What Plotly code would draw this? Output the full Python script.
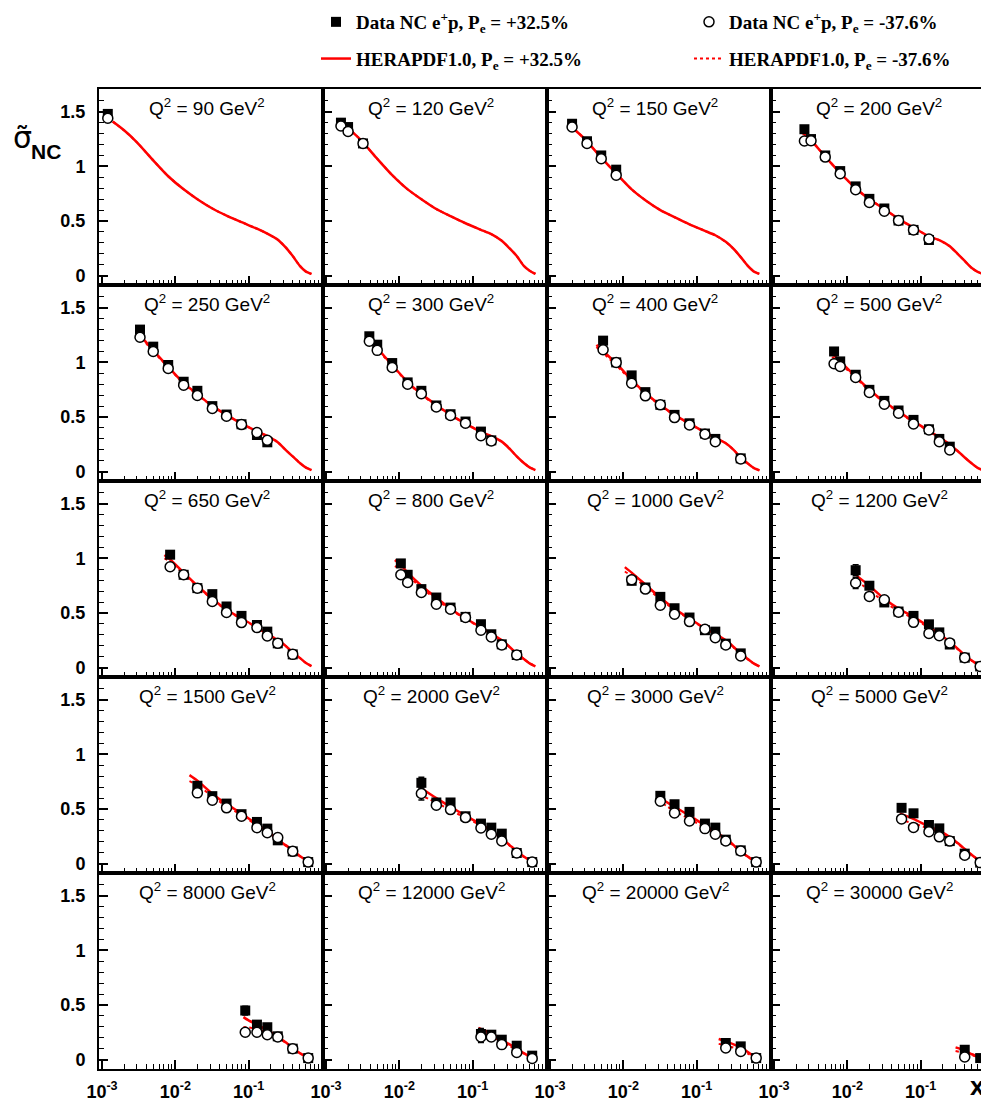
import plotly.graph_objects as go
from plotly.subplots import make_subplots

# ---------------- data ----------------
Q2 = [90, 120, 150, 200, 250, 300, 400, 500, 650, 800,
      1000, 1200, 1500, 2000, 3000, 5000, 8000, 12000, 20000, 30000]

data_x = [
    [0.0012],
    [0.0016, 0.002, 0.0032],
    [0.002, 0.0032, 0.005, 0.008],
    [0.0026, 0.0032, 0.005, 0.008, 0.013, 0.02, 0.032, 0.05, 0.08, 0.13],
    [0.0033, 0.005, 0.008, 0.013, 0.02, 0.032, 0.05, 0.08, 0.13, 0.18],
    [0.0039, 0.005, 0.008, 0.013, 0.02, 0.032, 0.05, 0.08, 0.13, 0.18],
    [0.0053, 0.008, 0.013, 0.02, 0.032, 0.05, 0.08, 0.13, 0.18, 0.4],
    [0.0066, 0.008, 0.013, 0.02, 0.032, 0.05, 0.08, 0.13, 0.18, 0.25],
    [0.0085, 0.013, 0.02, 0.032, 0.05, 0.08, 0.13, 0.18, 0.25, 0.4],
    [0.0105, 0.013, 0.02, 0.032, 0.05, 0.08, 0.13, 0.18, 0.25, 0.4],
    [0.013, 0.02, 0.032, 0.05, 0.08, 0.13, 0.18, 0.25, 0.4],
    [0.013, 0.02, 0.032, 0.05, 0.08, 0.13, 0.18, 0.25, 0.4, 0.65],
    [0.02, 0.032, 0.05, 0.08, 0.13, 0.18, 0.25, 0.4, 0.65],
    [0.02, 0.032, 0.05, 0.08, 0.13, 0.18, 0.25, 0.4, 0.65],
    [0.032, 0.05, 0.08, 0.13, 0.18, 0.25, 0.4, 0.65],
    [0.055, 0.08, 0.13, 0.18, 0.25, 0.4, 0.65],
    [0.09, 0.13, 0.18, 0.25, 0.4, 0.65],
    [0.13, 0.18, 0.25, 0.4, 0.65],
    [0.25, 0.4, 0.65],
    [0.4, 0.65],
]

# Data NC e+p, Pe = +32.5%
sig_pos = [
    [1.48],
    [1.40, 1.36, 1.21],
    [1.39, 1.23, 1.10, 0.97],
    [1.34, 1.25, 1.10, 0.957, 0.817, 0.703, 0.615, 0.505, 0.419, 0.327],
    [1.30, 1.144, 0.976, 0.823, 0.74, 0.60, 0.523, 0.434, 0.336, 0.269],
    [1.239, 1.162, 0.994, 0.817, 0.74, 0.606, 0.526, 0.459, 0.367, 0.287],
    [1.199, 1.0, 0.881, 0.728, 0.612, 0.52, 0.443, 0.349, 0.30, 0.122],
    [1.10, 1.009, 0.887, 0.749, 0.648, 0.56, 0.474, 0.388, 0.30, 0.229],
    [1.034, 0.85, 0.728, 0.673, 0.56, 0.474, 0.391, 0.33, 0.223, 0.122],
    [0.954, 0.85, 0.719, 0.642, 0.55, 0.465, 0.398, 0.306, 0.214, 0.116],
    [0.795, 0.734, 0.648, 0.544, 0.459, 0.343, 0.33, 0.22, 0.131],
    [0.892, 0.75, 0.597, 0.514, 0.474, 0.397, 0.323, 0.212, 0.092, 0.012],
    [0.713, 0.618, 0.55, 0.453, 0.382, 0.321, 0.214, 0.113, 0.015],
    [0.74, 0.56, 0.56, 0.434, 0.367, 0.33, 0.275, 0.098, 0.015],
    [0.621, 0.544, 0.474, 0.367, 0.33, 0.22, 0.122, 0.015],
    [0.511, 0.461, 0.354, 0.323, 0.207, 0.092, 0.01],
    [0.45, 0.321, 0.297, 0.214, 0.101, 0.015],
    [0.235, 0.229, 0.183, 0.128, 0.037],
    [0.153, 0.122, 0.015],
    [0.091, 0.015],
]

# Data NC e+p, Pe = -37.6%
sig_neg = [
    [1.44],
    [1.37, 1.32, 1.21],
    [1.36, 1.21, 1.07, 0.92],
    [1.232, 1.235, 1.085, 0.933, 0.786, 0.67, 0.59, 0.505, 0.419, 0.336],
    [1.23, 1.10, 0.945, 0.792, 0.697, 0.578, 0.508, 0.431, 0.358, 0.287],
    [1.193, 1.11, 0.954, 0.801, 0.713, 0.593, 0.514, 0.443, 0.33, 0.281],
    [1.116, 1.0, 0.81, 0.694, 0.612, 0.495, 0.428, 0.343, 0.275, 0.116],
    [0.988, 0.963, 0.862, 0.725, 0.618, 0.535, 0.437, 0.382, 0.275, 0.199],
    [0.924, 0.85, 0.728, 0.606, 0.505, 0.413, 0.367, 0.291, 0.223, 0.122],
    [0.85, 0.78, 0.688, 0.581, 0.535, 0.459, 0.343, 0.281, 0.208, 0.116],
    [0.804, 0.719, 0.572, 0.489, 0.422, 0.352, 0.275, 0.208, 0.107],
    [0.775, 0.652, 0.621, 0.508, 0.415, 0.314, 0.292, 0.227, 0.092, 0.012],
    [0.648, 0.581, 0.511, 0.434, 0.33, 0.284, 0.239, 0.113, 0.015],
    [0.642, 0.535, 0.495, 0.422, 0.327, 0.269, 0.208, 0.098, 0.015],
    [0.572, 0.465, 0.391, 0.321, 0.269, 0.208, 0.116, 0.015],
    [0.41, 0.332, 0.292, 0.246, 0.207, 0.077, 0.01],
    [0.251, 0.251, 0.229, 0.208, 0.101, 0.015],
    [0.208, 0.208, 0.138, 0.067, 0.012],
    [0.107, 0.076, 0.015],
    [0.025, None],
]

# visible error bars (first point of each bin only)
err_pos_first = [0, 0, 0, 0, 0, 0, 0, 0, 0, 0,
                 0, 0.05, 0, 0.05, 0, 0, 0.04, 0.05, 0, 0]
err_neg_first = [0, 0, 0, 0, 0, 0, 0, 0, 0, 0,
                 0, 0.05, 0, 0.06, 0, 0, 0.03, 0.05, 0, 0]

# HERAPDF1.0 predictions
curve_x = [
    [0.0014, 0.002, 0.003, 0.005, 0.008, 0.013, 0.02, 0.032, 0.05, 0.08, 0.13, 0.18, 0.25, 0.32, 0.4, 0.5, 0.6, 0.72],
    [0.0017, 0.002, 0.003, 0.005, 0.008, 0.013, 0.02, 0.032, 0.05, 0.08, 0.13, 0.18, 0.25, 0.32, 0.4, 0.5, 0.6, 0.72],
    [0.0019, 0.003, 0.005, 0.008, 0.013, 0.02, 0.032, 0.05, 0.08, 0.13, 0.18, 0.25, 0.32, 0.4, 0.5, 0.6, 0.72],
    [0.0024, 0.003, 0.005, 0.008, 0.013, 0.02, 0.032, 0.05, 0.08, 0.13, 0.18, 0.25, 0.32, 0.4, 0.5, 0.6, 0.72],
    [0.0031, 0.005, 0.008, 0.013, 0.02, 0.032, 0.05, 0.08, 0.13, 0.18, 0.25, 0.32, 0.4, 0.5, 0.6, 0.72],
    [0.0037, 0.005, 0.008, 0.013, 0.02, 0.032, 0.05, 0.08, 0.13, 0.18, 0.25, 0.32, 0.4, 0.5, 0.6, 0.72],
    [0.0043, 0.005, 0.008, 0.013, 0.02, 0.032, 0.05, 0.08, 0.13, 0.18, 0.25, 0.32, 0.4, 0.5, 0.6, 0.72],
    [0.0062, 0.008, 0.013, 0.02, 0.032, 0.05, 0.08, 0.13, 0.18, 0.25, 0.32, 0.4, 0.5, 0.6, 0.72],
    [0.0071, 0.0085, 0.013, 0.02, 0.032, 0.05, 0.08, 0.13, 0.18, 0.25, 0.32, 0.4, 0.5, 0.6, 0.72],
    [0.0087, 0.0105, 0.013, 0.02, 0.032, 0.05, 0.08, 0.13, 0.18, 0.25, 0.32, 0.4, 0.5, 0.6, 0.72],
    [0.0105, 0.013, 0.02, 0.032, 0.05, 0.08, 0.13, 0.18, 0.25, 0.32, 0.4, 0.5, 0.6, 0.72],
    [0.0135, 0.02, 0.032, 0.05, 0.08, 0.13, 0.18, 0.25, 0.32, 0.4, 0.5, 0.6, 0.72],
    [0.0156, 0.02, 0.032, 0.05, 0.08, 0.13, 0.18, 0.25, 0.32, 0.4, 0.5, 0.6, 0.72],
    [0.019, 0.032, 0.05, 0.08, 0.13, 0.18, 0.25, 0.32, 0.4, 0.5, 0.6, 0.72],
    [0.03, 0.05, 0.08, 0.13, 0.18, 0.25, 0.32, 0.4, 0.5, 0.6, 0.72],
    [0.052, 0.08, 0.13, 0.18, 0.25, 0.32, 0.4, 0.5, 0.6, 0.72],
    [0.085, 0.1, 0.13, 0.18, 0.25, 0.32, 0.4, 0.5, 0.6, 0.72],
    [0.12, 0.18, 0.25, 0.32, 0.4, 0.5, 0.6, 0.72],
    [0.2, 0.25, 0.32, 0.4, 0.5, 0.6, 0.72],
    [0.3, 0.4, 0.5, 0.6, 0.72],
]

curve_pos = [
    [1.41, 1.33, 1.22, 1.055, 0.91, 0.79, 0.70, 0.615, 0.55, 0.49, 0.43, 0.385, 0.33, 0.26, 0.18, 0.09, 0.04, 0.016],
    [1.39, 1.35, 1.24, 1.07, 0.92, 0.79, 0.70, 0.61, 0.545, 0.48, 0.42, 0.38, 0.32, 0.25, 0.18, 0.09, 0.045, 0.016],
    [1.37, 1.25, 1.08, 0.935, 0.79, 0.69, 0.60, 0.535, 0.47, 0.41, 0.37, 0.31, 0.245, 0.17, 0.09, 0.04, 0.016],
    [1.31, 1.26, 1.09, 0.94, 0.80, 0.70, 0.61, 0.52, 0.44, 0.36, 0.325, 0.27, 0.20, 0.135, 0.07, 0.035, 0.015],
    [1.27, 1.11, 0.96, 0.81, 0.71, 0.60, 0.52, 0.44, 0.37, 0.325, 0.27, 0.20, 0.14, 0.08, 0.04, 0.015],
    [1.23, 1.13, 0.975, 0.82, 0.71, 0.61, 0.52, 0.44, 0.365, 0.325, 0.275, 0.21, 0.14, 0.08, 0.04, 0.015],
    [1.16, 1.12, 0.99, 0.84, 0.72, 0.61, 0.52, 0.44, 0.36, 0.31, 0.26, 0.20, 0.13, 0.075, 0.035, 0.012],
    [1.08, 1.01, 0.87, 0.75, 0.64, 0.55, 0.46, 0.375, 0.315, 0.25, 0.19, 0.13, 0.075, 0.035, 0.012],
    [1.03, 0.99, 0.87, 0.75, 0.63, 0.53, 0.45, 0.37, 0.31, 0.25, 0.20, 0.14, 0.09, 0.045, 0.015],
    [0.985, 0.94, 0.87, 0.75, 0.64, 0.54, 0.45, 0.37, 0.31, 0.25, 0.19, 0.13, 0.08, 0.04, 0.012],
    [0.92, 0.87, 0.76, 0.64, 0.54, 0.45, 0.36, 0.31, 0.25, 0.19, 0.13, 0.08, 0.04, 0.012],
    [0.84, 0.75, 0.63, 0.54, 0.465, 0.375, 0.31, 0.236, 0.175, 0.113, 0.065, 0.03, 0.01],
    [0.81, 0.76, 0.64, 0.545, 0.46, 0.36, 0.30, 0.22, 0.17, 0.12, 0.07, 0.035, 0.012],
    [0.70, 0.60, 0.52, 0.44, 0.36, 0.30, 0.23, 0.17, 0.115, 0.065, 0.03, 0.01],
    [0.61, 0.52, 0.44, 0.35, 0.29, 0.23, 0.17, 0.11, 0.065, 0.03, 0.01],
    [0.46, 0.41, 0.34, 0.30, 0.245, 0.19, 0.135, 0.08, 0.04, 0.012],
    [0.39, 0.36, 0.32, 0.27, 0.21, 0.16, 0.11, 0.06, 0.03, 0.01],
    [0.29, 0.24, 0.18, 0.14, 0.10, 0.06, 0.03, 0.01],
    [0.19, 0.17, 0.14, 0.11, 0.07, 0.035, 0.01],
    [0.113, 0.085, 0.05, 0.03, 0.01],
]

curve_neg = [
    [1.41, 1.33, 1.22, 1.055, 0.91, 0.79, 0.70, 0.615, 0.55, 0.49, 0.43, 0.385, 0.33, 0.26, 0.18, 0.09, 0.04, 0.016],
    [1.39, 1.35, 1.24, 1.07, 0.92, 0.79, 0.70, 0.61, 0.545, 0.48, 0.42, 0.38, 0.32, 0.25, 0.18, 0.09, 0.045, 0.016],
    [1.37, 1.25, 1.08, 0.935, 0.79, 0.69, 0.60, 0.535, 0.47, 0.41, 0.37, 0.31, 0.245, 0.17, 0.09, 0.04, 0.016],
    [1.31, 1.26, 1.09, 0.94, 0.80, 0.70, 0.61, 0.52, 0.44, 0.36, 0.325, 0.27, 0.20, 0.135, 0.07, 0.035, 0.015],
    [1.26, 1.10, 0.955, 0.805, 0.705, 0.60, 0.52, 0.44, 0.37, 0.325, 0.27, 0.20, 0.14, 0.08, 0.04, 0.015],
    [1.22, 1.12, 0.97, 0.815, 0.705, 0.605, 0.52, 0.44, 0.365, 0.325, 0.275, 0.21, 0.14, 0.08, 0.04, 0.015],
    [1.14, 1.10, 0.975, 0.83, 0.715, 0.605, 0.515, 0.44, 0.36, 0.31, 0.26, 0.20, 0.13, 0.075, 0.035, 0.012],
    [1.05, 0.99, 0.86, 0.74, 0.635, 0.545, 0.455, 0.37, 0.31, 0.25, 0.19, 0.13, 0.075, 0.035, 0.012],
    [1.00, 0.97, 0.86, 0.745, 0.625, 0.525, 0.445, 0.365, 0.305, 0.25, 0.20, 0.14, 0.09, 0.045, 0.015],
    [0.93, 0.90, 0.845, 0.73, 0.625, 0.53, 0.445, 0.365, 0.305, 0.245, 0.19, 0.13, 0.08, 0.04, 0.012],
    [0.88, 0.84, 0.74, 0.625, 0.53, 0.445, 0.355, 0.305, 0.245, 0.185, 0.125, 0.075, 0.04, 0.012],
    [0.79, 0.71, 0.60, 0.52, 0.45, 0.365, 0.30, 0.23, 0.17, 0.11, 0.063, 0.03, 0.01],
    [0.755, 0.72, 0.615, 0.525, 0.445, 0.35, 0.29, 0.215, 0.165, 0.115, 0.068, 0.033, 0.012],
    [0.63, 0.56, 0.49, 0.42, 0.35, 0.29, 0.225, 0.165, 0.11, 0.062, 0.03, 0.01],
    [0.58, 0.48, 0.41, 0.33, 0.28, 0.22, 0.165, 0.108, 0.063, 0.03, 0.01],
    [0.40, 0.37, 0.32, 0.285, 0.235, 0.185, 0.13, 0.078, 0.04, 0.012],
    [0.30, 0.295, 0.28, 0.25, 0.205, 0.155, 0.108, 0.06, 0.03, 0.01],
    [0.26, 0.215, 0.165, 0.125, 0.09, 0.055, 0.028, 0.01],
    [0.145, 0.13, 0.11, 0.085, 0.055, 0.03, 0.01],
    [0.08, 0.06, 0.04, 0.025, 0.01],
]

x_tick_vals = [0.001, 0.01, 0.1]
x_tick_text = ["10<sup>-3</sup>", "10<sup>-2</sup>", "10<sup>-1</sup>"]

# ---------------- layout geometry ----------------
PAGE_W, PAGE_H = 989, 1108
OFF = 8                          # default body margin of the html page
W, H = PAGE_W - OFF, PAGE_H - OFF


def fx(px):
    """page pixel -> paper x fraction"""
    return (px - OFF) / W


def fy(py):
    """page pixel -> paper y fraction"""
    return 1 - (py - OFF) / H


NROW, NCOL = 5, 4
col_left = [99, 323, 547, 771]
col_w = 224
row_top = [89 + 196 * r for r in range(NROW)]
row_h = 196
DEC = 73.3                      # pixels per decade
X0 = -3 - 3 / DEC               # log10 at left edge of each panel
Y_RANGE = [-0.085, 1.708]

fig = make_subplots(rows=NROW, cols=NCOL, horizontal_spacing=0, vertical_spacing=0)

TICK_FONT = dict(family="Liberation Sans, Arial", size=18, color="black", weight="bold")
minor_x = [k * 10 ** e for e in (-3, -2, -1) for k in range(2, 10)]

for i, q in enumerate(Q2):
    r, c = divmod(i, NCOL)
    row, col = r + 1, c + 1
    first = (i == 0)

    fig.add_trace(go.Scatter(
        x=curve_x[i], y=curve_neg[i], mode="lines",
        line=dict(color="red", width=2, dash="dot", shape="spline", smoothing=0.6),
        name="HERAPDF1.0, P<sub>e</sub> = -37.6%", legend="legend2",
        legendgroup="m_line", showlegend=first, legendrank=2, hoverinfo="skip"),
        row=row, col=col)
    fig.add_trace(go.Scatter(
        x=curve_x[i], y=curve_pos[i], mode="lines",
        line=dict(color="red", width=2.5, shape="spline", smoothing=0.6),
        name="HERAPDF1.0, P<sub>e</sub> = +32.5%", legend="legend",
        legendgroup="p_line", showlegend=first, legendrank=2, hoverinfo="skip"),
        row=row, col=col)

    n = len(data_x[i])
    fig.add_trace(go.Scatter(
        x=data_x[i], y=sig_pos[i], mode="markers",
        marker=dict(symbol="square", size=10, color="black"),
        error_y=dict(type="data", array=[err_pos_first[i]] + [0] * (n - 1),
                     color="black", thickness=1.5, width=3, visible=True),
        name="Data NC e<sup>+</sup>p, P<sub>e</sub> = +32.5%", legend="legend",
        legendgroup="p_data", showlegend=first, legendrank=1), row=row, col=col)
    fig.add_trace(go.Scatter(
        x=data_x[i], y=sig_neg[i], mode="markers",
        marker=dict(symbol="circle", size=10, color="white",
                    line=dict(color="black", width=1.5)),
        error_y=dict(type="data", array=[err_neg_first[i]] + [0] * (n - 1),
                     color="black", thickness=1.5, width=3, visible=True),
        name="Data NC e<sup>+</sup>p, P<sub>e</sub> = -37.6%", legend="legend2",
        legendgroup="m_data", showlegend=first, legendrank=1), row=row, col=col)

    left = col_left[c]
    right = min(left + col_w, PAGE_W)
    xdom = [fx(left), min(fx(right), 1.0)]
    xr = [X0, X0 + (right - left) / DEC]
    ydom = [fy(row_top[r] + row_h), fy(row_top[r])]

    fig.update_xaxes(
        type="log", domain=xdom, range=xr, showgrid=False, zeroline=False,
        automargin=False,
        showline=True, linecolor="black", linewidth=2, mirror=True,
        ticks="inside", ticklen=9, tickwidth=1.5, tickcolor="black",
        tickmode="array", tickvals=x_tick_vals, ticktext=x_tick_text,
        showticklabels=(r == NROW - 1), tickfont=TICK_FONT, ticklabelstandoff=5,
        minor=dict(ticks="inside", ticklen=5, tickwidth=1, tickcolor="black",
                   tickmode="array", tickvals=minor_x, showgrid=False),
        row=row, col=col)
    fig.update_yaxes(
        domain=ydom, range=Y_RANGE, showgrid=False, zeroline=False,
        automargin=False,
        showline=True, linecolor="black", linewidth=2, mirror=True,
        ticks="inside", ticklen=9, tickwidth=1.5, tickcolor="black",
        tickmode="linear", tick0=0, dtick=0.5,
        showticklabels=(c == 0), tickfont=TICK_FONT, ticklabelstandoff=8,
        minor=dict(ticks="inside", ticklen=5, tickwidth=1, tickcolor="black",
                   dtick=0.1, tick0=0, showgrid=False),
        row=row, col=col)

    fig.add_annotation(
        x=fx(left + 108), y=fy(row_top[r] + 18), xref="paper", yref="paper",
        text=f"Q<sup>2</sup> = {q} GeV<sup>2</sup>", showarrow=False,
        font=dict(family="Liberation Sans, Arial", size=19, color="black"),
        xanchor="center", yanchor="middle")

# axis titles
fig.add_annotation(x=fx(22), y=fy(138), xref="paper", yref="paper",
                   text="σ̃", showarrow=False,
                   font=dict(family="DejaVu Sans", size=30, color="black"),
                   xanchor="center", yanchor="middle")
fig.add_annotation(x=fx(46), y=fy(151), xref="paper", yref="paper",
                   text="NC", showarrow=False,
                   font=dict(family="Liberation Sans, Arial", size=21, color="black", weight="bold"),
                   xanchor="center", yanchor="middle")
fig.add_annotation(x=fx(977), y=fy(1086), xref="paper", yref="paper",
                   text="x", showarrow=False,
                   font=dict(family="Liberation Sans, Arial", size=26, color="black", weight="bold"),
                   xanchor="center", yanchor="middle")

LEG_FONT = dict(family="Liberation Serif, Times New Roman", size=19, color="black", weight="bold")
fig.update_layout(
    width=W, height=H,
    margin=dict(l=0, r=0, t=0, b=0, autoexpand=False),
    paper_bgcolor="white", plot_bgcolor="white",
    legend=dict(x=fx(316), y=fy(3), xanchor="left", yanchor="top",
                font=LEG_FONT, bgcolor="rgba(0,0,0,0)", traceorder="grouped",
                tracegroupgap=9, itemsizing="trace"),
    legend2=dict(x=fx(689), y=fy(3), xanchor="left", yanchor="top",
                 font=LEG_FONT, bgcolor="rgba(0,0,0,0)", traceorder="grouped",
                 tracegroupgap=9, itemsizing="trace"),
)

fig.write_html("out.html")
